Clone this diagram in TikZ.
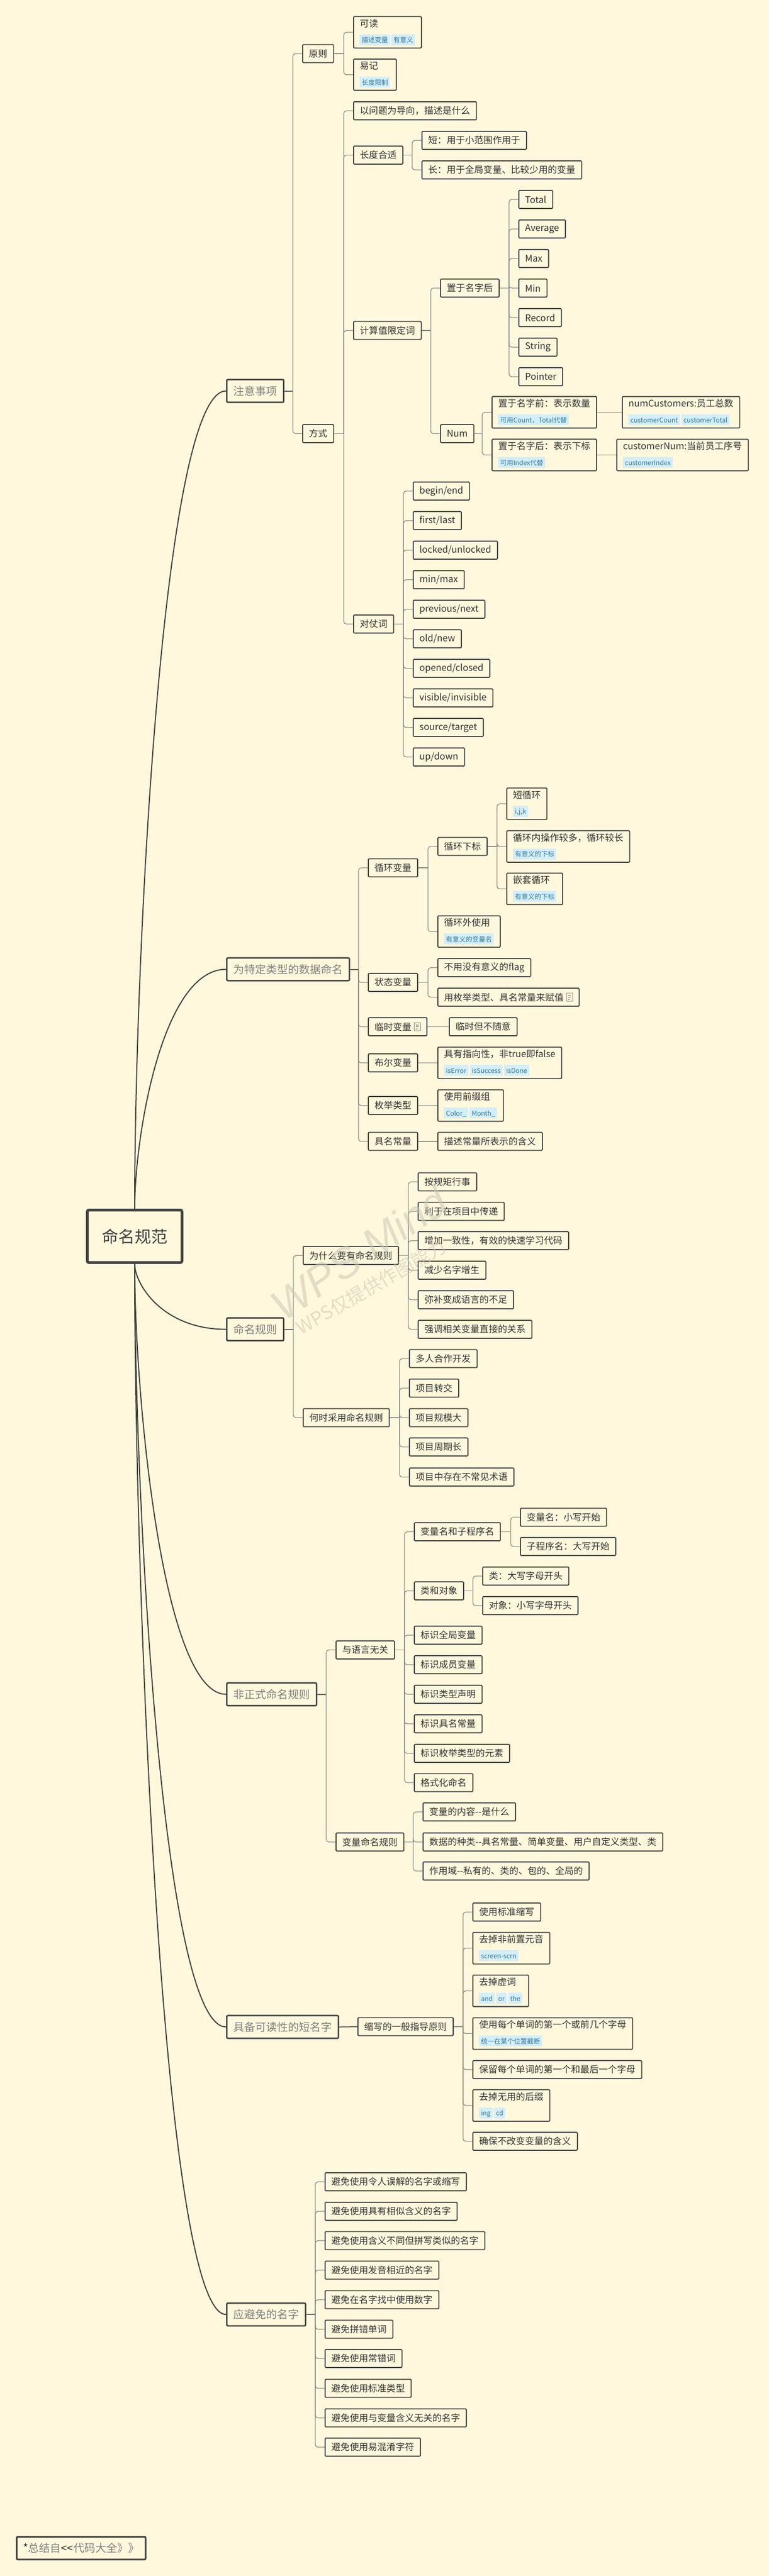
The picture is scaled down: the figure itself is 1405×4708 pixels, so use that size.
\documentclass[tikz,border=0pt]{standalone}
\usepackage{fontspec}
\setmainfont{Noto Sans CJK SC}
\newfontfamily\wmfont{Liberation Sans}
\usetikzlibrary{calc}
\definecolor{bg}{RGB}{255,248,220}
\definecolor{boxc}{RGB}{66,66,66}
\definecolor{txt}{RGB}{50,50,50}
\definecolor{lonetxt}{RGB}{128,128,128}
\definecolor{roottxt}{RGB}{64,64,64}
\definecolor{lnc}{RGB}{140,140,140}
\definecolor{lonelnc}{RGB}{100,100,100}
\definecolor{rootln}{RGB}{64,64,64}
\definecolor{tagbg}{RGB}{212,238,250}
\definecolor{tagfg}{RGB}{47,122,156}
\definecolor{icc}{RGB}{110,110,110}
\definecolor{wmc}{RGB}{202,199,180}
\newcommand\tg[1]{{\setlength{\fboxsep}{0pt}\colorbox{tagbg}{\hspace{3.5pt}\rule[-5pt]{0pt}{20pt}{\color{tagfg}\fontsize{12}{14}\selectfont #1}\hspace{3.5pt}}}}
\newcommand\tgs{\hspace{3pt}}
\newcommand\noteicon{\hspace{5pt}\tikz[x=1pt,y=1pt,baseline=0pt]{\draw[draw=icc,line width=0.9pt,rounded corners=0.5pt] (0,-1) rectangle (11,14);\draw[icc,line width=0.9pt] (3,10)--(8,10) (3,6.5)--(8,6.5) (3,3)--(6,3);}}
\newcommand\linkP[3][cn]{\draw[#1] (#2.east) -- ([xshift=-17pt]#2.east -| #3.west);}
\newcommand\linkC[2]{\draw[cn,rounded corners=5pt] ([xshift=-17pt]#1.east -| #2.west) |- (#2.west);}
\newcommand\mfam[3][cn]{\foreach \kk in {#3}{\linkP[#1]{#2}{\kk}\linkC{#2}{\kk}}}
\newcommand\linkS[3][cn]{\draw[#1] (#2.east) -- (#3.west);}
\newcommand\rootc[2]{\draw[rl] (root.#1) .. controls ($(root.#1)!0.3!(root.#1 |- #2.west)$) and ($(#2.west -| root.#1)!0.3!(#2.west)$) .. (#2.west);}
\tikzset{
 bx/.style={draw=boxc, line width=1.8pt, rounded corners=1.5pt, fill=bg, text=txt,
   font=\fontsize{16.8}{20}\selectfont, inner xsep=11.5pt, inner ysep=0pt,
   minimum height=33pt, anchor=west, align=left},
 tbx/.style={bx, inner ysep=5pt, minimum height=57pt},
 lone/.style={draw=boxc, line width=2.6pt, rounded corners=2pt, fill=bg, text=lonetxt,
   font=\fontsize{20}{24}\selectfont, inner xsep=12pt, inner ysep=0pt,
   minimum height=41.5pt, anchor=west},
 rootbox/.style={draw=boxc, line width=5pt, rounded corners=3pt, fill=bg, text=roottxt,
   font=\fontsize{30}{36}\selectfont, minimum width=173pt, minimum height=96pt},
 cn/.style={draw=lnc, line width=1.3pt},
 cnone/.style={draw=lonelnc, line width=2pt},
 rl/.style={draw=rootln, line width=2pt},
}
\begin{document}
\begin{tikzpicture}[x=1pt,y=-1pt]
\fill[bg] (0,0) rectangle (1405,4708);
\useasboundingbox (0,0) rectangle (1405,4708);

% ---------- root ----------
\node[rootbox] (root) at (246,2259.5) {命名规范};

% ---------- 注意事项 ----------
\node[lone] (zy) at (413,714.5) {注意事项};
\node[bx] (yz) at (552,98) {原则};
\node[tbx] (kd) at (645,59) {可读\\[8.5pt]\tg{描述变量}\tgs\tg{有意义}};
\node[tbx] (yj) at (645,136.5) {易记\\[8.5pt]\tg{长度限制}};
\node[bx] (fs) at (552,792.5) {方式};
\node[bx] (wtd) at (645,202.5) {以问题为导向，描述是什么};
\node[bx] (cd) at (645,283.5) {长度合适};
\node[bx] (cd1) at (770,256.5) {短：用于小范围作用于};
\node[bx] (cd2) at (770,310.5) {长：用于全局变量、比较少用的变量};
\node[bx] (js) at (645,604) {计算值限定词};
\node[bx] (zh) at (804,526.5) {置于名字后};
\node[bx] (q1) at (947,364.5) {Total};
\node[bx] (q2) at (947,418.5) {Average};
\node[bx] (q3) at (947,472.5) {Max};
\node[bx] (q4) at (947,526.5) {Min};
\node[bx] (q5) at (947,580.5) {Record};
\node[bx] (q6) at (947,634.5) {String};
\node[bx] (q7) at (947,688.5) {Pointer};
\node[bx] (num) at (804,792.5) {Num};
\node[tbx] (nq) at (898,753.5) {置于名字前：表示数量\\[8.5pt]\tg{可用Count，Total代替}};
\node[tbx] (nqx) at (1136,753.5) {numCustomers:员工总数\\[8.5pt]\tg{customerCount}\tgs\tg{customerTotal}};
\node[tbx] (nh) at (898,831.5) {置于名字后：表示下标\\[8.5pt]\tg{可用Index代替}};
\node[tbx] (nhx) at (1126,831.5) {customerNum:当前员工序号\\[8.5pt]\tg{customerIndex}};
\node[bx] (dz) at (645,1140.5) {对仗词};
\node[bx] (d1) at (754,897.5) {begin/end};
\node[bx] (d2) at (754,951.5) {first/last};
\node[bx] (d3) at (754,1005.5) {locked/unlocked};
\node[bx] (d4) at (754,1059.5) {min/max};
\node[bx] (d5) at (754,1113.5) {previous/next};
\node[bx] (d6) at (754,1167.5) {old/new};
\node[bx] (d7) at (754,1221.5) {opened/closed};
\node[bx] (d8) at (754,1275.5) {visible/invisible};
\node[bx] (d9) at (754,1329.5) {source/target};
\node[bx] (d10) at (754,1383.5) {up/down};

\mfam[cnone]{zy}{yz,fs}
\mfam{yz}{kd,yj}
\mfam{fs}{wtd,cd,js,dz}
\mfam{cd}{cd1,cd2}
\mfam{js}{zh,num}
\mfam{zh}{q1,q2,q3,q4,q5,q6,q7}
\mfam{num}{nq,nh}
\linkS{nq}{nqx}
\linkS{nh}{nhx}
\mfam{dz}{d1,d2,d3,d4,d5,d6,d7,d8,d9,d10}

% ---------- 为特定类型的数据命名 ----------
\node[lone] (tsj) at (413,1771.5) {为特定类型的数据命名};
\node[bx] (xh) at (672,1586) {循环变量};
\node[bx] (xb) at (799,1547) {循环下标};
\node[tbx] (dxh) at (925,1469) {短循环\\[8.5pt]\tg{i,j,k}};
\node[tbx] (xc) at (925,1547) {循环内操作较多，循环较长\\[8.5pt]\tg{有意义的下标}};
\node[tbx] (qt) at (925,1624.5) {嵌套循环\\[8.5pt]\tg{有意义的下标}};
\node[tbx] (xw) at (799,1702.5) {循环外使用\\[8.5pt]\tg{有意义的变量名}};
\node[bx] (zt) at (672,1795.5) {状态变量};
\node[bx] (zt1) at (799,1768.5) {不用没有意义的flag};
\node[bx] (zt2) at (799,1822.5) {用枚举类型、具名常量来赋值\noteicon};
\node[bx] (ls) at (672,1876.5) {临时变量\noteicon};
\node[bx] (ls1) at (820,1876.5) {临时但不随意};
\node[bx] (be) at (672,1942.5) {布尔变量};
\node[tbx] (be1) at (799,1942.5) {具有指向性，非true即false\\[8.5pt]\tg{isError}\tgs\tg{isSuccess}\tgs\tg{isDone}};
\node[bx] (mj) at (672,2020.5) {枚举类型};
\node[tbx] (mj1) at (799,2020.5) {使用前缀组\\[8.5pt]\tg{Color\_}\tgs\tg{Month\_}};
\node[bx] (jm) at (672,2086) {具名常量};
\node[bx] (jm1) at (799,2086) {描述常量所表示的含义};

\mfam[cnone]{tsj}{xh,zt,ls,be,mj,jm}
\mfam{xh}{xb,xw}
\mfam{xb}{dxh,xc,qt}
\mfam{zt}{zt1,zt2}
\linkS{ls}{ls1}
\linkS{be}{be1}
\linkS{mj}{mj1}
\linkS{jm}{jm1}

% ---------- 命名规则 ----------
\node[lone] (mg) at (413,2429.5) {命名规则};
\node[bx] (ws) at (553,2294.5) {为什么要有命名规则};
\node[bx] (w1) at (763,2160) {按规矩行事};
\node[bx] (w2) at (763,2214) {利于在项目中传递};
\node[bx] (w3) at (763,2267.5) {增加一致性，有效的快速学习代码};
\node[bx] (w4) at (763,2321.5) {减少名字增生};
\node[bx] (w5) at (763,2375.5) {弥补变成语言的不足};
\node[bx] (w6) at (763,2429.5) {强调相关变量直接的关系};
\node[bx] (hs) at (553,2591) {何时采用命名规则};
\node[bx] (h1) at (747,2483) {多人合作开发};
\node[bx] (h2) at (747,2537) {项目转交};
\node[bx] (h3) at (747,2591) {项目规模大};
\node[bx] (h4) at (747,2644.5) {项目周期长};
\node[bx] (h5) at (747,2699.5) {项目中存在不常见术语};

\mfam[cnone]{mg}{ws,hs}
\mfam{ws}{w1,w2,w3,w4,w5,w6}
\mfam{hs}{h1,h2,h3,h4,h5}

% ---------- 非正式命名规则 ----------
\node[lone] (fz) at (413,3096.5) {非正式命名规则};
\node[bx] (yy) at (613,3015.5) {与语言无关};
\node[bx] (bl) at (756,2799.5) {变量名和子程序名};
\node[bx] (bl1) at (950,2773) {变量名：小写开始};
\node[bx] (bl2) at (950,2826.5) {子程序名：大写开始};
\node[bx] (ld) at (756,2907.5) {类和对象};
\node[bx] (ld1) at (881,2880.5) {类：大写字母开头};
\node[bx] (ld2) at (881,2934.5) {对象：小写字母开头};
\node[bx] (bs1) at (756,2988.5) {标识全局变量};
\node[bx] (bs2) at (756,3042.5) {标识成员变量};
\node[bx] (bs3) at (756,3096.5) {标识类型声明};
\node[bx] (bs4) at (756,3150.5) {标识具名常量};
\node[bx] (bs5) at (756,3204.5) {标识枚举类型的元素};
\node[bx] (bs6) at (756,3258) {格式化命名};
\node[bx] (bm) at (613,3366.5) {变量命名规则};
\node[bx] (bm1) at (772,3311.5) {变量的内容-{}-是什么};
\node[bx] (bm2) at (772,3366.5) {数据的种类-{}-具名常量、简单变量、用户自定义类型、类};
\node[bx] (bm3) at (772,3419.5) {作用域-{}-私有的、类的、包的、全局的};

\mfam[cnone]{fz}{yy,bm}
\mfam{yy}{bl,ld,bs1,bs2,bs3,bs4,bs5,bs6}
\mfam{bl}{bl1,bl2}
\mfam{ld}{ld1,ld2}
\mfam{bm}{bm1,bm2,bm3}

% ---------- 具备可读性的短名字 ----------
\node[lone] (jb) at (413,3704.5) {具备可读性的短名字};
\node[bx] (sx) at (653,3704) {缩写的一般指导原则};
\node[bx] (s1) at (863,3494.5) {使用标准缩写};
\node[tbx] (s2) at (863,3560.5) {去掉非前置元音\\[8.5pt]\tg{screen-scrn}};
\node[tbx] (s3) at (863,3638.5) {去掉虚词\\[8.5pt]\tg{and}\tgs\tg{or}\tgs\tg{the}};
\node[tbx] (s4) at (863,3716.5) {使用每个单词的第一个或前几个字母\\[8.5pt]\tg{统一在某个位置截断}};
\node[bx] (s5) at (863,3782.5) {保留每个单词的第一个和最后一个字母};
\node[tbx] (s6) at (863,3848) {去掉无用的后缀\\[8.5pt]\tg{ing}\tgs\tg{cd}};
\node[bx] (s7) at (863,3913.5) {确保不改变变量的含义};

\linkS[cnone]{jb}{sx}
\mfam{sx}{s1,s2,s3,s4,s5,s6,s7}

% ---------- 应避免的名字 ----------
\node[lone] (yb) at (413,4230) {应避免的名字};
\node[bx] (a1) at (593,3987.5) {避免使用令人误解的名字或缩写};
\node[bx] (a2) at (593,4041.5) {避免使用具有相似含义的名字};
\node[bx] (a3) at (593,4095) {避免使用含义不同但拼写类似的名字};
\node[bx] (a4) at (593,4149) {避免使用发音相近的名字};
\node[bx] (a5) at (593,4203) {避免在名字找中使用数字};
\node[bx] (a6) at (593,4257) {避免拼错单词};
\node[bx] (a7) at (593,4310.5) {避免使用常错词};
\node[bx] (a8) at (593,4365) {避免使用标准类型};
\node[bx] (a9) at (593,4419) {避免使用与变量含义无关的名字};
\node[bx] (a10) at (593,4472.5) {避免使用易混淆字符};

\mfam[cnone]{yb}{a1,a2,a3,a4,a5,a6,a7,a8,a9,a10}

% ---------- root curves ----------
\rootc{north}{zy}
\rootc{north}{tsj}
\rootc{south}{mg}
\rootc{south}{fz}
\rootc{south}{jb}
\rootc{south}{yb}

% ---------- footer ----------
\node[lone, line width=3pt] (ft) at (29,4657) {{\color{txt}*}总结自{\color{txt}<{}<}代码大全》》};

% ---------- watermark ----------
\node[rotate=34, text=wmc, opacity=0.55, font=\wmfont\itshape\fontsize{78}{90}\selectfont] (wm1) at (656,2290) {WPS Mind};
\node[rotate=30, text=wmc, opacity=0.55, font=\fontsize{34}{40}\selectfont] (wm2) at (678,2352) {WPS仅提供作图能力};
\end{tikzpicture}
\end{document}
